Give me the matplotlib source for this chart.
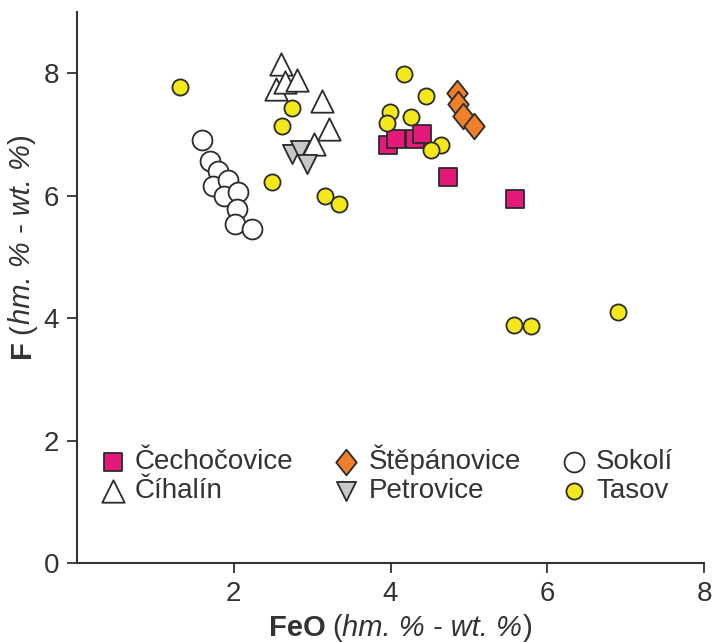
import matplotlib
matplotlib.use('Agg')
import matplotlib.pyplot as plt
from matplotlib.path import Path

plt.rcParams['font.family'] = ['Liberation Sans', 'DejaVu Sans']

# data (FeO, F)
cech_feo = [3.97, 4.07, 4.31, 4.40, 4.74, 5.59]
cech_f = [6.83, 6.93, 6.93, 7.01, 6.30, 5.95]

step_feo = [4.85, 4.86, 4.92, 5.07]
step_f = [7.68, 7.50, 7.30, 7.14]

cih_feo = [2.60, 2.54, 2.65, 2.81, 3.13, 3.22, 3.03]
cih_f = [8.15, 7.75, 7.85, 7.89, 7.55, 7.09, 6.85]

petr_feo = [2.74, 2.85, 2.93]
petr_f = [6.68, 6.74, 6.52]

sok_feo = [1.59, 1.70, 1.80, 1.74, 1.93, 1.88, 2.06, 2.04, 2.01, 2.23]
sok_f = [6.91, 6.56, 6.40, 6.15, 6.26, 5.99, 6.06, 5.79, 5.54, 5.46]

tas_feo = [1.32, 2.74, 2.62, 2.49, 3.16, 3.34, 4.17, 4.45, 3.99, 4.26, 3.95,
           4.65, 4.52, 5.57, 5.79, 6.90]
tas_f = [7.77, 7.44, 7.13, 6.22, 5.99, 5.86, 7.99, 7.63, 7.37, 7.28, 7.18,
         6.83, 6.74, 3.89, 3.87, 4.10]

xticks = [2, 4, 6, 8]
yticks = [0, 2, 4, 6, 8]

edge = '#2b2b2b'
txt = '#333333'
W, H = 714, 642

# slightly tall diamond like in the original
diamond = Path([(0, 1), (0.8, 0), (0, -1), (-0.8, 0), (0, 1)],
               [Path.MOVETO, Path.LINETO, Path.LINETO, Path.LINETO, Path.CLOSEPOLY])

fig = plt.figure(figsize=(W / 100, H / 100), dpi=100)
ax = fig.add_axes([77 / W, 1 - 563 / H, (704 - 77) / W, (563 - 12) / H])

kw = dict(edgecolors=edge, linewidths=1.3)
ax.scatter(cech_feo, cech_f, marker='s', s=175, c='#e5197a', zorder=3, label='Čechočovice', **kw)
ax.scatter(cih_feo, cih_f, marker='^', s=260, c='white', zorder=3, label='Číhalín', **kw)
ax.scatter(step_feo, step_f, marker=diamond, s=340, c='#f07f2a', zorder=3, label='Štěpánovice', **kw)
ax.scatter(petr_feo, petr_f, marker='v', s=190, c='#c8c8c8', zorder=4, label='Petrovice', **kw)
ax.scatter(sok_feo, sok_f, marker='o', s=205, c='white', zorder=3, label='Sokolí', **kw)
ax.scatter(tas_feo, tas_f, marker='o', s=135, c='#f3e91a', zorder=4, label='Tasov', **kw)

ax.set_xlim(0, 8)
ax.set_ylim(0, 9)
ax.set_xticks(xticks)
ax.set_yticks(yticks)
ax.spines['top'].set_visible(False)
ax.spines['right'].set_visible(False)
for sp in ['left', 'bottom']:
    ax.spines[sp].set_linewidth(1.5)
    ax.spines[sp].set_color(txt)
ax.tick_params(direction='out', length=7, width=1.3, labelsize=20, pad=6,
               colors=txt, labelcolor=txt)

leg = ax.legend(ncol=3, loc='upper left', bbox_to_anchor=(0.035, 0.215),
                frameon=False, fontsize=20, handletextpad=0.3,
                columnspacing=1.4, labelspacing=0.12, borderaxespad=0,
                borderpad=0, handlelength=1.0)
for t in leg.get_texts():
    t.set_color(txt)


# axis labels: bold name + italic units, placed piece by piece (pixels)
def rich_label(x, y, pieces, size, vertical=False):
    fig.canvas.draw()
    r = fig.canvas.get_renderer()
    pos = 0
    for s, weight, style, gap in pieces:
        if vertical:
            t = fig.text(x / W, 1 - (y - pos) / H, s, fontsize=size, fontweight=weight,
                         fontstyle=style, color=txt, rotation=90,
                         rotation_mode='anchor', ha='left', va='baseline')
            pos += t.get_window_extent(r).height + gap
        else:
            t = fig.text((x + pos) / W, 1 - y / H, s, fontsize=size, fontweight=weight,
                         fontstyle=style, color=txt, ha='left', va='baseline')
            pos += t.get_window_extent(r).width + gap


rich_label(269, 636, [('FeO', 'bold', 'normal', 6), ('(', 'normal', 'normal', 0),
                      ('hm. % - wt. %', 'normal', 'italic', 1), (')', 'normal', 'normal', 0)], 21)
rich_label(30, 358, [('F', 'bold', 'normal', 6), ('(', 'normal', 'normal', 0),
                     ('hm. % - wt. %', 'normal', 'italic', 1), (')', 'normal', 'normal', 0)],
           21, vertical=True)

fig.savefig('out.png', dpi=100)
